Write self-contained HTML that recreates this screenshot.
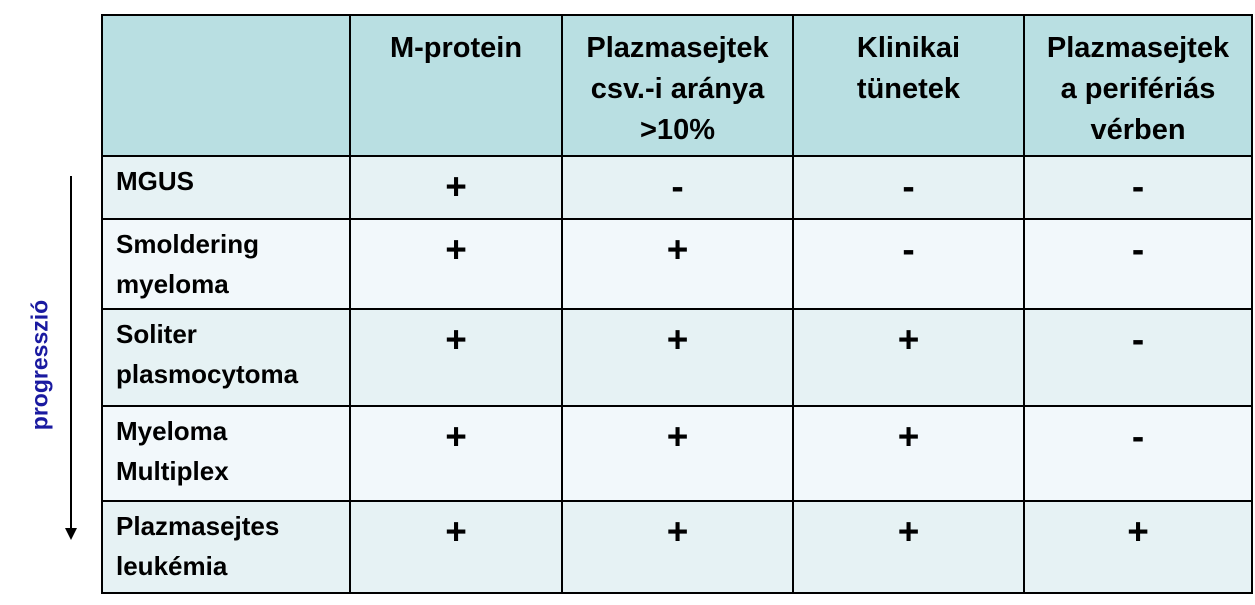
<!DOCTYPE html>
<html><head><meta charset="utf-8"><style>
body{margin:0;width:1255px;height:605px;background:#fff;position:relative;overflow:hidden;font-family:"Liberation Sans",sans-serif;font-weight:bold}
table{position:absolute;left:101px;top:14px;border-collapse:collapse;width:1152px;table-layout:fixed}
td{border:2px solid #000;vertical-align:top;font-size:26px;line-height:40px;padding:0;overflow:hidden}
thead td{background:#b9dfe2;text-align:center;padding-top:12px;font-size:29px;line-height:41px}
tr.o td{background:#e6f2f4}tr.e td{background:#f2f8fb}
td.n{padding:4px 0 0 13px;text-align:left}
td.v{text-align:center;font-size:37px;padding-top:10px}
</style></head><body>
<div style="position:absolute;left:70px;top:176px;width:2px;height:356px;background:#000"></div>
<div style="position:absolute;left:65px;top:528px;width:0;height:0;border-left:6px solid transparent;border-right:6px solid transparent;border-top:12px solid #000"></div>
<div style="position:absolute;left:40px;top:365px;transform:translate(-50%,-50%) rotate(-90deg);color:#1a1aa0;font-size:23px;white-space:nowrap">progresszió</div>
<table>
<colgroup><col style="width:248px"><col style="width:212px"><col style="width:231px"><col style="width:231px"><col></colgroup>
<thead><tr style="height:141px"><td></td><td>M-protein</td><td>Plazmasejtek<br>csv.-i aránya<br>&gt;10%</td><td>Klinikai<br>tünetek</td><td>Plazmasejtek<br>a perifériás<br>vérben</td></tr></thead>
<tbody>
<tr class="o" style="height:63px"><td class="n">MGUS</td><td class="v">+</td><td class="v">-</td><td class="v">-</td><td class="v">-</td></tr>
<tr class="e" style="height:90px"><td class="n">Smoldering<br>myeloma</td><td class="v">+</td><td class="v">+</td><td class="v">-</td><td class="v">-</td></tr>
<tr class="o" style="height:97px"><td class="n">Soliter<br>plasmocytoma</td><td class="v">+</td><td class="v">+</td><td class="v">+</td><td class="v">-</td></tr>
<tr class="e" style="height:95px"><td class="n">Myeloma<br>Multiplex</td><td class="v">+</td><td class="v">+</td><td class="v">+</td><td class="v">-</td></tr>
<tr class="o" style="height:92px"><td class="n">Plazmasejtes<br>leukémia</td><td class="v">+</td><td class="v">+</td><td class="v">+</td><td class="v">+</td></tr>
</tbody></table>
</body></html>
